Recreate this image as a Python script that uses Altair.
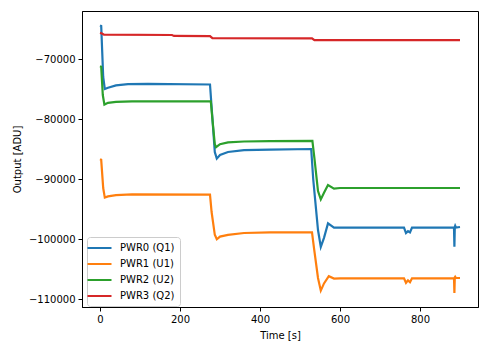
import altair as alt
import pandas as pd

series_names = ["PWR0 (Q1)", "PWR1 (U1)", "PWR2 (U2)", "PWR3 (Q2)"]
series_colors = ["#1f77b4", "#ff7f0e", "#2ca02c", "#d62728"]

t_pwr0 = [0, 3, 8, 12, 20, 40, 70, 120, 275, 279, 287, 292, 300, 320, 360, 425, 528,
          533, 545, 552, 560, 570, 585, 600, 760, 765, 770, 775, 780, 885, 886, 887,
          888, 890, 900]
v_pwr0 = [-64400, -64500, -73000, -75000, -74800, -74400, -74200, -74150, -74250, -78000,
          -85500, -86600, -86000, -85500, -85200, -85100, -85000, -90000, -98500, -101300,
          -99800, -97400, -98100, -98100, -98100, -99000, -98700, -98900, -98100, -98100,
          -101300, -98000, -97800, -98100, -98000]

t_pwr1 = [0, 3, 8, 12, 20, 40, 80, 275, 279, 287, 292, 300, 320, 360, 425, 530, 535,
          545, 552, 560, 572, 585, 600, 760, 765, 770, 775, 780, 885, 886, 887, 888,
          890, 900]
v_pwr1 = [-86700, -86800, -91500, -93100, -92900, -92700, -92550, -92600, -95500, -99300,
          -100050, -99600, -99300, -99000, -98900, -98900, -101500, -106500, -108600,
          -107400, -106200, -106600, -106550, -106550, -107300, -106900, -107200, -106550,
          -106550, -109000, -106400, -106300, -106500, -106500]

t_pwr2 = [0, 3, 7, 11, 20, 40, 80, 277, 281, 287, 290, 300, 320, 360, 425, 531, 536,
          545, 552, 560, 570, 585, 600, 900]
v_pwr2 = [-71200, -71300, -76000, -77600, -77300, -77150, -77050, -77050, -80000, -84200,
          -84700, -84200, -83900, -83750, -83700, -83650, -86500, -92000, -93400, -92300,
          -91000, -91600, -91500, -91500]

t_pwr3 = [0, 5, 10, 180, 185, 275, 281, 530, 536, 900]
v_pwr3 = [-65650, -65750, -65950, -66000, -66150, -66200, -66530, -66560, -66860, -66870]

rows = []
for name, ts, vs in zip(series_names, [t_pwr0, t_pwr1, t_pwr2, t_pwr3],
                        [v_pwr0, v_pwr1, v_pwr2, v_pwr3]):
    for i, (t, v) in enumerate(zip(ts, vs)):
        rows.append({"series": name, "t": t, "v": v, "order": i})
df = pd.DataFrame(rows)

font = "DejaVu Sans"

chart = alt.Chart(df).mark_line(strokeWidth=2.2).encode(
    x=alt.X("t:Q", title="Time [s]",
            scale=alt.Scale(domain=[-45, 945], nice=False, zero=False),
            axis=alt.Axis(values=[0, 200, 400, 600, 800], format="d", grid=False,
                          domainColor="black", tickColor="black", tickSize=4,
                          labelFontSize=10, labelColor="black", titleFontSize=10,
                          titleColor="black", titleFontWeight="normal", labelPadding=3,
                          titlePadding=6, labelFont=font, titleFont=font)),
    y=alt.Y("v:Q", title="Output [ADU]",
            scale=alt.Scale(domain=[-111330, -62000], nice=False, zero=False),
            axis=alt.Axis(values=[-110000, -100000, -90000, -80000, -70000], format="d",
                          grid=False, domainColor="black", tickColor="black", tickSize=4,
                          labelFontSize=10, labelColor="black", titleFontSize=10,
                          titleColor="black", titleFontWeight="normal", labelPadding=3,
                          titlePadding=6, labelFont=font, titleFont=font)),
    color=alt.Color("series:N",
                    scale=alt.Scale(domain=series_names, range=series_colors),
                    legend=alt.Legend(title=None, orient="none", legendX=5, legendY=226,
                                      symbolType="M-2.1,0H2.7", symbolSize=100,
                                      symbolStrokeWidth=2, labelFontSize=10,
                                      labelFont=font, labelColor="black",
                                      labelOffset=16, rowPadding=5, padding=5,
                                      fillColor="rgba(255,255,255,0.8)",
                                      strokeColor="#cccccc", cornerRadius=3)),
    order="order:Q",
).properties(
    width=396, height=296,
    autosize=alt.AutoSizeParams(type="none"),
    padding={"left": 82, "top": 11, "right": 11, "bottom": 40},
).configure_view(stroke="black", strokeWidth=1)

chart.save("out.html", embed_options={"renderer": "svg", "actions": False})
